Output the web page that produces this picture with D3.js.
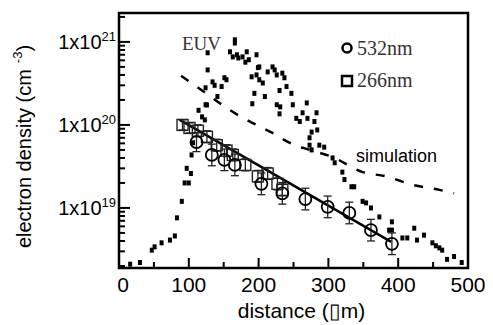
<!DOCTYPE html>
<html>
<head>
<meta charset="utf-8">
<script src="https://cdn.jsdelivr.net/npm/d3@7"></script>
<style>
  body { margin: 0; background: #fff; }
  svg text { font-family: "Liberation Sans", Arial, sans-serif; }
</style>
</head>
<body>
<div id="chart"></div>
<script>
// EUV measurement (distance um, density cm^-3)
const euvX = [16, 30, 47, 51, 61, 73, 80, 83, 90, 94, 100, 97, 103, 104, 106, 114, 119, 123, 124, 126,
  124, 127, 127, 134, 137, 141, 147, 151, 154, 159, 166, 166, 163, 169, 171, 177, 183, 181, 186, 190,
  197, 194, 191, 199, 197, 201, 201, 206, 209, 213, 220, 223, 226, 234, 237, 230, 240, 247, 226, 231,
  230, 249, 269, 263, 270, 254, 259, 283, 280, 284, 273, 276, 273, 287, 294, 276, 306, 309, 320, 323,
  333, 337, 349, 354, 361, 373, 391, 387, 391, 406, 413, 423, 427, 437, 449, 454, 459, 463, 470, 480, 491];
const euvY = [2.1e18, 2.2e18, 3.1e18, 3.4e18, 3.8e18, 4.1e18, 4.6e18, 7.6e18, 1.2e19, 2.0e19, 2.0e19, 3.0e19, 2.6e19, 4.35e19, 6.1e19, 1.5e20, 1.25e20, 1.15e20, 1.75e20, 1.74e20,
  2.8e20, 4.6e20, 7.4e20, 3.3e20, 3.0e20, 2.2e20, 2.9e20, 3.7e20, 3.5e20, 7.6e20, 1.06e21, 9.7e20, 6.6e20, 7.0e20, 6.4e20, 6.6e20, 7.6e20, 5.7e20, 6.1e20, 3.8e20,
  4.0e20, 2.4e20, 1.8e20, 4.9e20, 7.0e20, 5.0e20, 3.5e20, 3.2e20, 2.2e20, 4.35e20, 5.0e20, 4.6e20, 4.0e20, 4.2e20, 3.7e20, 2.6e20, 2.9e20, 2.4e20, 1.75e20, 1.65e20,
  1.36e20, 1.75e20, 1.84e20, 1.4e20, 1.2e20, 1.2e20, 1.1e20, 1.4e20, 1.1e20, 8.7e19, 7.0e19, 8.2e19, 5.7e19, 5.7e19, 5.4e19, 5.0e19, 4.0e19, 3.5e19, 2.7e19, 2.2e19,
  1.8e19, 1.8e19, 1.2e19, 1.15e19, 1.0e19, 7.8e18, 6.8e18, 5.4e18, 5.4e18, 4.35e18, 4.35e18, 5.7e18, 4.1e18, 4.7e18, 3.8e18, 3.5e18, 3.3e18, 3.1e18, 2.4e18, 2.6e18, 2.2e18];

// 532nm probe (circles)
const x532 = [111, 133, 151, 166, 204, 234, 267, 299, 330, 361, 391];
const y532 = [6.2e19, 4.35e19, 3.8e19, 3.3e19, 1.95e19, 1.5e19, 1.28e19, 1.03e19, 8.7e18, 5.4e18, 3.7e18];
const err532 = [1.3, 1.35, 1.35, 1.35, 1.35, 1.35, 1.35, 1.35, 1.35, 1.35, 1.35];

// 266nm probe (squares)
const x266 = [91, 101, 113, 126, 140, 154, 163, 181, 199, 213, 227, 234];
const y266 = [1.0e20, 9.2e19, 8.5e19, 7.2e19, 5.7e19, 4.9e19, 4.35e19, 3.3e19, 2.4e19, 2.6e19, 1.95e19, 1.65e19];
const err266 = [1.15, 1.15, 1.18, 1.18, 1.18, 1.18, 1.18, 1.18, 1.18, 1.18, 1.18, 1.18];

// exponential fit
const fitX = [87, 390];
const fitY = [1.15e20, 3.9e18];

// simulation
const simX = [89, 119, 144, 170, 197, 220, 244, 273, 306, 349, 383, 420, 459, 480];
const simY = [3.9e20, 2.6e20, 1.84e20, 1.32e20, 1.0e20, 8.0e19, 6.1e19, 5.0e19, 4.1e19, 2.7e19, 2.4e19, 1.9e19, 1.65e19, 1.5e19];

const xTicks = [0, 100, 200, 300, 400, 500];
const yTicks = [1e19, 1e20, 1e21];
const yTickExp = ['19', '20', '21'];

const W = 493, H = 325;
const margin = { top: 13, right: 25, bottom: 57, left: 119 };

const svg = d3.select('#chart').append('svg')
  .attr('width', W)
  .attr('height', H);

const x = d3.scaleLinear().domain([0, 500]).range([margin.left, W - margin.right]);
const y = d3.scaleLog().domain([1.89e18, 2.23e21]).range([H - margin.bottom, margin.top]);

const x0 = margin.left, x1 = W - margin.right, y0 = H - margin.bottom, y1 = margin.top;

// x ticks, inward
const xMinor = d3.range(0, 501, 50);
svg.append('g').selectAll('line')
  .data(xMinor)
  .enter().append('line')
  .attr('x1', d => x(d)).attr('x2', d => x(d))
  .attr('y1', y0).attr('y2', d => y0 - (d % 100 === 0 ? 10 : 6))
  .attr('stroke', '#000').attr('stroke-width', 2);

svg.append('g').selectAll('text')
  .data(xTicks)
  .enter().append('text')
  .attr('x', d => x(d) + (d === 0 ? 4 : 0))
  .attr('y', y0 + 24)
  .attr('text-anchor', 'middle')
  .attr('font-size', 21)
  .text(d => d);

// y ticks, inward, with minor ticks 2..9
const yMinor = [];
[18, 19, 20, 21].forEach(e => {
  for (let m = 1; m <= 9; m++) {
    const v = m * Math.pow(10, e);
    if (v >= y.domain()[0] && v <= y.domain()[1]) yMinor.push({ v: v, major: m === 1 });
  }
});
svg.append('g').selectAll('line')
  .data(yMinor)
  .enter().append('line')
  .attr('x1', x0).attr('x2', d => x0 + (d.major ? 11 : 6))
  .attr('y1', d => y(d.v)).attr('y2', d => y(d.v))
  .attr('stroke', '#000').attr('stroke-width', 2);

const yLab = svg.append('g').selectAll('text')
  .data(yTicks)
  .enter().append('text')
  .attr('x', x0 - 3)
  .attr('y', d => y(d) + 7)
  .attr('text-anchor', 'end')
  .attr('font-size', 20);
yLab.append('tspan').text('1x10');
yLab.append('tspan').attr('font-size', 13).attr('dy', -8).text((d, i) => yTickExp[i]);

// frame
svg.append('rect')
  .attr('x', x0).attr('y', y1)
  .attr('width', x1 - x0).attr('height', y0 - y1)
  .attr('fill', 'none').attr('stroke', '#000').attr('stroke-width', 2.5);

// simulation dashed
const simLine = d3.line().curve(d3.curveMonotoneX)
  .x((d, i) => x(simX[i])).y((d, i) => y(simY[i]));
svg.append('path')
  .attr('d', simLine(simX))
  .attr('fill', 'none').attr('stroke', '#000')
  .attr('stroke-width', 2.5).attr('stroke-dasharray', '9,11');

// EUV points
svg.append('g').selectAll('rect')
  .data(euvX)
  .enter().append('rect')
  .attr('x', d => x(d) - 2)
  .attr('y', (d, i) => y(euvY[i]) - 2.5)
  .attr('width', 4).attr('height', 5)
  .attr('fill', '#000');

// fit line
svg.append('line')
  .attr('x1', x(fitX[0])).attr('y1', y(fitY[0]))
  .attr('x2', x(fitX[1])).attr('y2', y(fitY[1]))
  .attr('stroke', '#000').attr('stroke-width', 2.5);

// error bars
function errBars(xs, ys, es, cap) {
  const g = svg.append('g').attr('stroke', '#222').attr('stroke-width', 1.3);
  xs.forEach((d, i) => {
    const lo = y(ys[i] / es[i]), hi = y(ys[i] * es[i]), px = x(d);
    g.append('line').attr('x1', px).attr('x2', px).attr('y1', lo).attr('y2', hi);
    g.append('line').attr('x1', px - cap).attr('x2', px + cap).attr('y1', lo).attr('y2', lo);
    g.append('line').attr('x1', px - cap).attr('x2', px + cap).attr('y1', hi).attr('y2', hi);
  });
}
errBars(x266, y266, err266, 4);
errBars(x532, y532, err532, 4);

// squares
svg.append('g').selectAll('rect')
  .data(x266)
  .enter().append('rect')
  .attr('x', d => x(d) - 5.5)
  .attr('y', (d, i) => y(y266[i]) - 5.5)
  .attr('width', 11).attr('height', 11)
  .attr('fill', 'none').attr('stroke', '#222').attr('stroke-width', 1.4);

// circles
svg.append('g').selectAll('circle')
  .data(x532)
  .enter().append('circle')
  .attr('cx', d => x(d))
  .attr('cy', (d, i) => y(y532[i]))
  .attr('r', 6)
  .attr('fill', 'none').attr('stroke', '#000').attr('stroke-width', 1.8);

// labels
svg.append('text')
  .attr('x', 182).attr('y', 50)
  .style('font-family', '"Liberation Serif", serif')
  .attr('font-size', 19).attr('fill', '#333')
  .text('EUV');

svg.append('circle').attr('cx', 347).attr('cy', 48).attr('r', 4.5)
  .attr('fill', 'none').attr('stroke', '#000').attr('stroke-width', 2.5);
svg.append('rect').attr('x', 342).attr('y', 76).attr('width', 10).attr('height', 10)
  .attr('fill', 'none').attr('stroke', '#000').attr('stroke-width', 2.5);
svg.append('text').attr('x', 357).attr('y', 55)
  .style('font-family', '"Liberation Serif", serif')
  .attr('font-size', 20).attr('fill', '#333').text('532nm');
svg.append('text').attr('x', 357).attr('y', 87)
  .style('font-family', '"Liberation Serif", serif')
  .attr('font-size', 20).attr('fill', '#333').text('266nm');

svg.append('text').attr('x', 356).attr('y', 162)
  .attr('font-size', 18).text('simulation');

// axis titles
svg.append('text')
  .attr('x', (x0 + x1) / 2 + 8).attr('y', H - 7)
  .attr('text-anchor', 'middle')
  .attr('font-size', 21)
  .text('distance (\u25AFm)');

const yt = svg.append('text')
  .attr('transform', 'translate(31,' + ((y0 + y1) / 2 + 6) + ') rotate(-90)')
  .attr('text-anchor', 'middle')
  .attr('font-size', 20);
yt.append('tspan').text('electron density (cm');
yt.append('tspan').attr('font-size', 13).attr('dy', -9).attr('dx', 6).text('-3');
yt.append('tspan').attr('dy', 9).text(')');
</script>
</body>
</html>
